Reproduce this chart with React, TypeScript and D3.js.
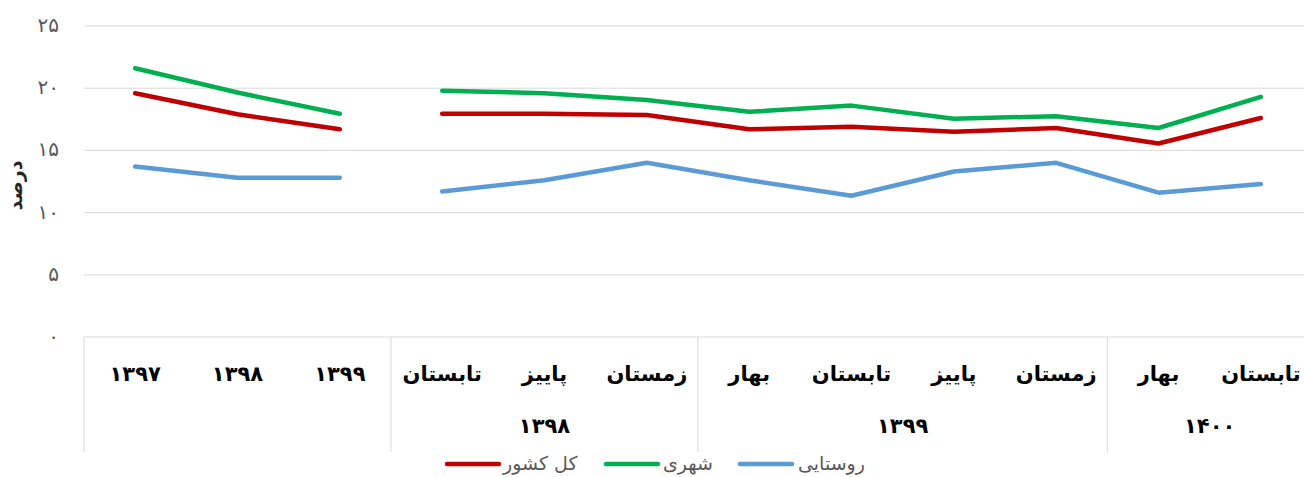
import React from "react";
import * as d3 from "d3";

const categories = ["۱۳۹۷", "۱۳۹۸", "۱۳۹۹", "تابستان", "پاییز", "زمستان", "بهار", "تابستان", "پاییز", "زمستان", "بهار", "تابستان"];
const groupLabels = ["", "۱۳۹۸", "۱۳۹۹", "۱۴۰۰"];
const groupStarts = [0, 3, 6, 10, 12];
const lineSegments = [[0, 2], [3, 11]];

const totalValues = [19.6, 17.9, 16.7, 17.95, 17.95, 17.85, 16.7, 16.9, 16.5, 16.8, 15.55, 17.6];
const urbanValues = [21.6, 19.65, 17.95, 19.8, 19.6, 19.05, 18.1, 18.6, 17.55, 17.75, 16.8, 19.3];
const ruralValues = [13.7, 12.8, 12.8, 11.7, 12.6, 14.0, 12.6, 11.35, 13.3, 14.0, 11.6, 12.3];

const yTicks = [0, 5, 10, 15, 20, 25];
const yTickLabels = ["۰", "۵", "۱۰", "۱۵", "۲۰", "۲۵"];

const series = [
  { name: "کل کشور", values: totalValues, color: "#C00000" },
  { name: "شهری", values: urbanValues, color: "#00B050" },
  { name: "روستایی", values: ruralValues, color: "#5B9BD5" },
];

const W = 1304;
const H = 477;
const left = 84;
const right = 1312;
const top = 26;
const bottom = 337;

export default function App() {
  const x = d3.scaleBand<number>().domain(d3.range(categories.length)).range([left, right]).padding(0);
  const y = d3.scaleLinear().domain([0, 25]).range([bottom, top]);
  const font = "'DejaVu Sans', sans-serif";

  const legendItems = [
    { s: series[0], lx: 447, tx: 503 },
    { s: series[1], lx: 606, tx: 663 },
    { s: series[2], lx: 740, tx: 798 },
  ];

  return (
    <svg width={W} height={H} style={{ position: "absolute", left: 0, top: 0, background: "#fff" }}>
      {yTicks.map((t, i) => (
        <g key={t}>
          {t > 0 && <line x1={left} x2={right} y1={y(t)} y2={y(t)} stroke="#d9d9d9" strokeWidth={1} />}
          <text x={59} y={y(t)} dy="0.3em" textAnchor="end" fontFamily={font} fontSize={20} fill="#595959">
            {yTickLabels[i]}
          </text>
        </g>
      ))}
      <text
        transform={`translate(22,${(top + bottom) / 2 + 4}) rotate(-90)`}
        textAnchor="middle"
        fontFamily={font}
        fontSize={19}
        fontWeight="bold"
        fill="#262626"
      >
        درصد
      </text>
      {/* x axis */}
      <line x1={left} x2={right} y1={bottom} y2={bottom} stroke="#d9d9d9" strokeWidth={1} />
      {groupStarts.map((g, i) => (
        <line key={i} x1={(x(g) ?? right)} x2={(x(g) ?? right)} y1={bottom} y2={452} stroke="#d9d9d9" strokeWidth={1} />
      ))}
      {categories.map((c, i) => (
        <text
          key={i}
          x={(x(i) as number) + x.bandwidth() / 2}
          y={381}
          textAnchor="middle"
          fontFamily={font}
          fontSize={21}
          fontWeight="bold"
          fill="#000"
        >
          {c}
        </text>
      ))}
      {groupLabels.map((g, i) => {
        if (!g) return null;
        const x0 = x(groupStarts[i]) as number;
        const x1 = groupStarts[i + 1] < categories.length ? (x(groupStarts[i + 1]) as number) : right;
        return (
          <text key={i} x={(x0 + x1) / 2} y={433} textAnchor="middle" fontFamily={font} fontSize={21} fontWeight="bold" fill="#000">
            {g}
          </text>
        );
      })}
      {/* lines */}
      {series.map((s) =>
        lineSegments.map(([a, b], k) => {
          const idx = d3.range(a, b + 1);
          const path = d3
            .line<number>()
            .x((i) => (x(i) as number) + x.bandwidth() / 2)
            .y((i) => y(s.values[i]))(idx);
          return (
            <path
              key={s.name + k}
              d={path ?? ""}
              fill="none"
              stroke={s.color}
              strokeWidth={4.5}
              strokeLinecap="round"
              strokeLinejoin="round"
            />
          );
        })
      )}
      {/* legend */}
      {legendItems.map(({ s, lx, tx }) => (
        <g key={s.name}>
          <line x1={lx} x2={lx + 52} y1={464} y2={464} stroke={s.color} strokeWidth={4.5} strokeLinecap="round" />
          <text x={tx} y={464} dy="0.3em" fontFamily={font} fontSize={19} fill="#595959">
            {s.name}
          </text>
        </g>
      ))}
    </svg>
  );
}
